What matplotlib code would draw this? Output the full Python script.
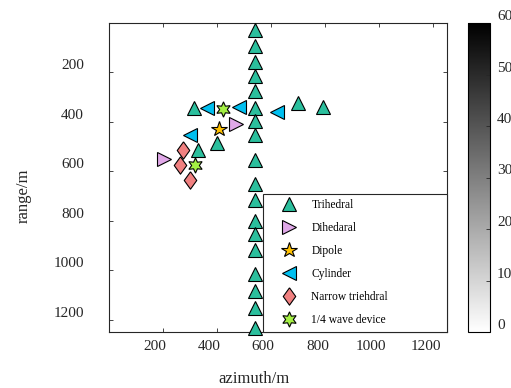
import matplotlib
matplotlib.use("Agg")
import matplotlib.pyplot as plt
import matplotlib.transforms as mtransforms
from matplotlib.cm import ScalarMappable
from matplotlib.colors import Normalize

plt.rcParams['font.family'] = ['Liberation Serif', 'DejaVu Serif']

# target positions (azimuth, range) in metres
trihedral_x = [540] * 18 + [316, 699, 791, 399, 328]
trihedral_y = [30, 93, 158, 214, 277, 344, 398, 452, 553, 653, 715, 802, 855,
               917, 1016, 1085, 1151, 1235, 344, 322, 339, 487, 512]
dihedral_x = [470, 205]
dihedral_y = [409, 550]
dipole_x = [405]
dipole_y = [427]
cylinder_x = [364, 479, 621, 300]
cylinder_y = [344, 339, 359, 453]
narrow_x = [273, 263, 300]
narrow_y = [514, 573, 635]
wave_x = [423, 319]
wave_y = [346, 574]

ticks = [200, 400, 600, 800, 1000, 1200]
cbar_ticks = [0, 10, 20, 30, 40, 50, 60]

W, H = 511, 388
fig = plt.figure(figsize=(W / 100, H / 100), dpi=100)
ax = fig.add_axes([109 / W, 1 - 332 / H, 338 / W, 309 / H])

diamond = [(0, 1), (0.72, 0), (0, -1), (-0.72, 0), (0, 1)]
groups = [
    (trihedral_x, trihedral_y, '^', '#2bbf9d', 10.5, 'Trihedral'),
    (dihedral_x, dihedral_y, '>', '#e0a8e8', 10.5, 'Dihedaral'),
    (dipole_x, dipole_y, '*', '#ffc000', 11.5, 'Dipole'),
    (cylinder_x, cylinder_y, '<', '#00bff0', 10.5, 'Cylinder'),
    (narrow_x, narrow_y, diamond, '#f08080', 12.5, 'Narrow triehdral'),
    (wave_x, wave_y, (6, 1, 0), '#a4f044', 11, '1/4 wave device'),
]
for xs, ys, m, c, ms, lab in groups:
    ax.plot(xs, ys, linestyle='none', marker=m, markersize=ms,
            markerfacecolor=c, markeredgecolor='black', markeredgewidth=0.8,
            label=lab, clip_on=False, zorder=3)

ax.set_xlim(0, 1250)
ax.set_ylim(1250, 0)
ax.set_xticks(ticks)
ax.set_yticks(ticks)
ax.tick_params(direction='in', length=3, width=0.6, top=True, right=True,
               labelsize=11, colors='#262626')
ax.tick_params(axis='x', pad=6)
ax.tick_params(axis='y', pad=18)
for s in ax.spines.values():
    s.set_linewidth(0.8)
    s.set_color('#262626')

# nudge tick labels
dx_x = mtransforms.ScaledTranslation(-8 / 100, 0, fig.dpi_scale_trans)
for lab in ax.get_xticklabels():
    lab.set_transform(lab.get_transform() + dx_x)
dy_y = mtransforms.ScaledTranslation(0, 8 / 100, fig.dpi_scale_trans)
for lab in ax.get_yticklabels():
    lab.set_transform(lab.get_transform() + dy_y)

leg = ax.legend(loc='lower left', bbox_to_anchor=(154 / 338, 0, 184 / 338, 0.2),
                mode='expand', borderaxespad=0, fontsize=8.3, frameon=True,
                fancybox=False, edgecolor='#262626', framealpha=1,
                borderpad=0.5, handlelength=3.5, handletextpad=0.2,
                labelspacing=0.95)
leg.get_frame().set_linewidth(0.8)

fig.text(254 / W, 1 - 379 / H, 'azimuth/m', ha='center', va='center',
         fontsize=12, color='#262626')
fig.text(24 / W, 1 - 196 / H, 'range/m', ha='center', va='center',
         rotation=90, fontsize=12, color='#262626')

cax = fig.add_axes([468 / W, 1 - 332 / H, 22 / W, 309 / H])
sm = ScalarMappable(norm=Normalize(0, 60), cmap='gray_r')
cb = fig.colorbar(sm, cax=cax, ticks=cbar_ticks)
cb.outline.set_linewidth(0.8)
cax.tick_params(direction='in', length=3, width=0.6, labelsize=11,
                colors='#262626', pad=5)
for lab in cax.get_yticklabels():
    lab.set_transform(lab.get_transform() + dy_y)

fig.savefig('out.png', dpi=100)
